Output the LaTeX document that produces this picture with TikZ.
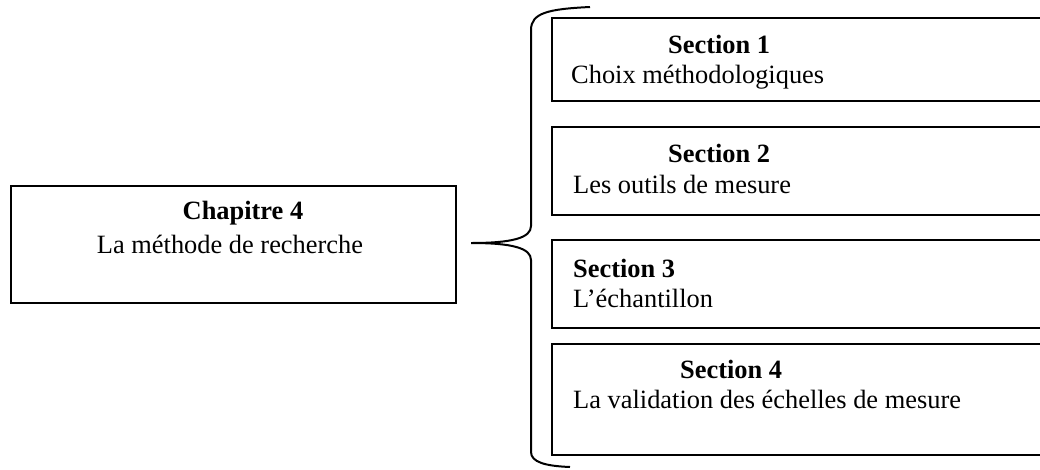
\documentclass[tikz,border=0pt]{standalone}
\usepackage{fontspec}
\setmainfont{Liberation Serif}
\tikzstyle{box} = [draw, line width=2pt, anchor=north west, inner sep=0pt, outer sep=0pt]
\tikzstyle{head} = [font=\bfseries, inner sep=0pt]
\tikzstyle{body} = [inner sep=0pt]
\tikzstyle{brace} = [line width=2pt]

\begin{document}
\begin{tikzpicture}[x=1pt,y=-1pt]
        \fontsize{26.4}{31}\selectfont
        \clip (0,0) rectangle (1040,469);
        % chapter box
        \node[box, minimum width=445pt, minimum height=117pt] at (11,186) (chap) {};
        \node[head, anchor=base] at (243,219) (chaph) {Chapitre 4};
        \node[body, anchor=base] at (230,253) (chapb) {La méthode de recherche};

        % sections
        \node[box, minimum width=495pt, minimum height=83pt] at (552,18) (s1) {};
        \node[box, minimum width=495pt, minimum height=88pt] at (552,127) (s2) {};
        \node[box, minimum width=495pt, minimum height=88pt] at (552,240) (s3) {};
        \node[box, minimum width=495pt, minimum height=111pt] at (552,344) (s4) {};

        \node[head, anchor=base west] at (668,53) (h1) {Section 1};
        \node[body, anchor=base west] at (571,83) (b1) {Choix méthodologiques};
        \node[head, anchor=base west] at (668,162) (h2) {Section 2};
        \node[body, anchor=base west] at (573,193) (b2) {Les outils de mesure};
        \node[head, anchor=base west] at (573,277) (h3) {Section 3};
        \node[body, anchor=base west] at (573,307) (b3) {L’échantillon};
        \node[head, anchor=base west] at (680,378) (h4) {Section 4};
        \node[body, anchor=base west] at (573,408) (b4) {La validation des échelles de mesure};

        % brace
        \coordinate (tip) at (471,243);
        \coordinate (top) at (590,7);
        \coordinate (bot) at (570,467);
        \draw[brace] (top) .. controls (548,9) and (531,13) .. (531,30) -- (531,226)
          .. controls (531,238) and (512,243) .. (tip)
          .. controls (512,243) and (531,248) .. (531,260) -- (531,452)
          .. controls (531,462) and (545,466) .. (bot);
      \end{tikzpicture}
\end{document}
